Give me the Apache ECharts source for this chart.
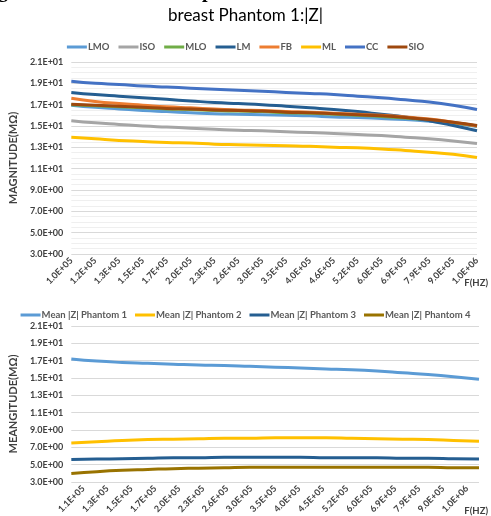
<!DOCTYPE html>
<html>
<head>
<meta charset="utf-8">
<script src="https://cdn.jsdelivr.net/npm/echarts@6/dist/echarts.min.js"></script>
<style>
html,body{margin:0;padding:0;background:#fff;}
#c{width:491px;height:516px;}
</style>
</head>
<body>
<div id="c"></div>
<script>
// ---- Data ----
const freqTop = ["1.0E+05","1.2E+05","1.3E+05","1.5E+05","1.7E+05","2.0E+05","2.3E+05","2.6E+05","3.0E+05","3.5E+05","4.0E+05","4.6E+05","5.2E+05","6.0E+05","6.9E+05","7.9E+05","9.0E+05","1.0E+06"];
const freqBottom = ["1.1E+05","1.3E+05","1.5E+05","1.7E+05","2.0E+05","2.3E+05","2.6E+05","3.0E+05","3.5E+05","4.0E+05","4.5E+05","5.2E+05","6.0E+05","6.9E+05","7.9E+05","9.0E+05","1.0E+06"];

const LMO = [16.95,16.75,16.6,16.45,16.35,16.25,16.15,16.1,16.05,16.0,15.95,15.85,15.8,15.7,15.6,15.45,15.25,14.95];
const ISO = [15.5,15.3,15.15,15.0,14.9,14.8,14.7,14.6,14.55,14.45,14.4,14.3,14.2,14.1,13.95,13.8,13.6,13.35];
const MLO = [17.0,16.9,16.8,16.7,16.6,16.55,16.45,16.4,16.35,16.25,16.2,16.1,16.0,15.9,15.75,15.55,15.3,15.0];
const LM  = [18.15,17.95,17.8,17.65,17.5,17.35,17.2,17.1,17.0,16.85,16.7,16.55,16.35,16.1,15.85,15.5,15.05,14.55];
const FB  = [17.6,17.3,17.1,16.95,16.8,16.7,16.6,16.5,16.45,16.35,16.3,16.2,16.1,16.0,15.85,15.65,15.35,15.0];
const ML  = [13.95,13.8,13.65,13.55,13.45,13.4,13.3,13.25,13.2,13.15,13.1,13.0,12.95,12.85,12.7,12.55,12.35,12.05];
const CC  = [19.2,19.0,18.9,18.75,18.65,18.55,18.45,18.35,18.25,18.15,18.05,17.95,17.8,17.65,17.45,17.25,16.95,16.55];
const SIO = [17.05,16.95,16.85,16.75,16.65,16.6,16.5,16.45,16.4,16.3,16.25,16.15,16.05,15.95,15.8,15.6,15.35,15.05];

const P1 = [17.2,16.95,16.8,16.7,16.6,16.5,16.45,16.35,16.25,16.15,16.05,15.95,15.8,15.6,15.4,15.15,14.85];
const P2 = [7.5,7.65,7.8,7.9,7.95,8.0,8.05,8.05,8.1,8.1,8.1,8.05,8.0,7.95,7.9,7.8,7.7];
const P3 = [5.6,5.65,5.7,5.75,5.8,5.8,5.85,5.85,5.85,5.85,5.8,5.8,5.8,5.75,5.75,5.7,5.65];
const P4 = [4.0,4.2,4.35,4.45,4.55,4.6,4.65,4.7,4.7,4.7,4.7,4.7,4.7,4.7,4.7,4.65,4.65];

const topNames = ["LMO","ISO","MLO","LM","FB","ML","CC","SIO"];
const topData = [LMO,ISO,MLO,LM,FB,ML,CC,SIO];
const bottomNames = ["Mean |Z| Phantom 1","Mean |Z| Phantom 2","Mean |Z| Phantom 3","Mean |Z| Phantom 4"];
const bottomData = [P1,P2,P3,P4];

// ---- Styles ----
const topColors = ["#5B9BD5","#A5A5A5","#70AD47","#255E91","#ED7D31","#FFC000","#4472C4","#9E480E"];
const bottomColors = ["#5B9BD5","#FFC000","#255E91","#997300"];
const FONT = "Lato, 'Noto Sans', sans-serif";

function sci(v){
  let e = Math.floor(Math.log10(Math.abs(v)) + 1e-9);
  let m = v / Math.pow(10, e);
  let ms = m.toFixed(1);
  if (ms === "10.0") { e += 1; ms = (v/Math.pow(10,e)).toFixed(1); }
  const sign = e < 0 ? "-" : "+";
  const ea = Math.abs(e);
  return ms + "E" + sign + (ea < 10 ? "0" + ea : "" + ea);
}

const yLabel = {fontFamily: FONT, fontWeight: "bold", fontSize: 9, color: "#404040", formatter: sci, margin: 8};
const xLabel = {fontFamily: FONT, fontWeight: "bold", fontSize: 9, color: "#404040", rotate: 45, interval: 0, margin: 5};

const chart = echarts.init(document.getElementById("c"), null, {renderer: "canvas"});

const series = [];
topNames.forEach((n, i) => series.push({
  name: n, type: "line", xAxisIndex: 0, yAxisIndex: 0, data: topData[i],
  smooth: true, showSymbol: false, symbol: "none",
  lineStyle: {width: 3, color: topColors[i]}, itemStyle: {color: topColors[i]}
}));
bottomNames.forEach((n, i) => series.push({
  name: n, type: "line", xAxisIndex: 2, yAxisIndex: 1, data: bottomData[i],
  smooth: true, showSymbol: false, symbol: "none",
  lineStyle: {width: 3, color: bottomColors[i]}, itemStyle: {color: bottomColors[i]}
}));

chart.setOption({
  animation: false,
  backgroundColor: "#fff",
  textStyle: {fontFamily: FONT},
  graphic: [
    {type: "text", left: -2, top: -18, style: {text: "gnificant in each breast phantoms.", font: "bold 20px 'Liberation Serif', serif", fill: "#000"}},
    {type: "text", left: "center", top: 7, style: {text: "breast Phantom 1:|Z|", font: "17px " + FONT, fill: "#000"}},
    {type: "text", right: 3, top: 278, style: {text: "F(HZ)", font: "bold 9.5px " + FONT, fill: "#404040"}},
    {type: "text", right: 3, top: 506, style: {text: "F(HZ)", font: "bold 9.5px " + FONT, fill: "#404040"}}
  ],
  legend: [
    {data: topNames, top: 37, left: "center", icon: "rect", itemWidth: 20, itemHeight: 3, itemGap: 9,
     textStyle: {fontFamily: FONT, fontWeight: "bold", fontSize: 9.5, color: "#595959", padding: [0,0,0,-4]}},
    {data: bottomNames, top: 305, left: "center", icon: "rect", itemWidth: 20, itemHeight: 3, itemGap: 8,
     textStyle: {fontFamily: FONT, fontWeight: "bold", fontSize: 9.5, color: "#595959", padding: [0,0,0,-4]}}
  ],
  grid: [
    {left: 65, right: 14, top: 62, bottom: 262},
    {left: 63, right: 12, top: 326, bottom: 29}
  ],
  xAxis: [
    {type: "category", gridIndex: 0, data: freqTop, boundaryGap: false,
     axisLine: {show: false}, axisTick: {show: false}, axisLabel: xLabel, splitLine: {show: false}},
    {type: "category", gridIndex: 1, data: freqBottom, boundaryGap: true,
     axisLine: {show: false}, axisTick: {show: false}, axisLabel: xLabel, splitLine: {show: false}},
    {type: "category", gridIndex: 1, data: freqBottom, boundaryGap: false, show: false}
  ],
  yAxis: [
    {type: "value", gridIndex: 0, min: 3, max: 21, interval: 2,
     name: "MAGNITUDE(MΩ)", nameLocation: "middle", nameGap: 31,
     nameTextStyle: {fontFamily: FONT, fontWeight: "bold", fontSize: 11, color: "#404040"},
     axisLine: {show: false}, axisTick: {show: false}, axisLabel: yLabel,
     splitLine: {lineStyle: {color: "#D9D9D9", width: 1}},
     minorTick: {show: false, splitNumber: 4},
     minorSplitLine: {show: true, lineStyle: {color: "#EFEFEF", width: 1}}},
    {type: "value", gridIndex: 1, min: 3, max: 21, interval: 2,
     name: "MEANGITUDE(MΩ)", nameLocation: "middle", nameGap: 29,
     nameTextStyle: {fontFamily: FONT, fontWeight: "bold", fontSize: 11, color: "#404040"},
     axisLine: {show: false}, axisTick: {show: false}, axisLabel: yLabel,
     splitLine: {lineStyle: {color: "#D9D9D9", width: 1}}}
  ],
  series: series
});
</script>
</body>
</html>
